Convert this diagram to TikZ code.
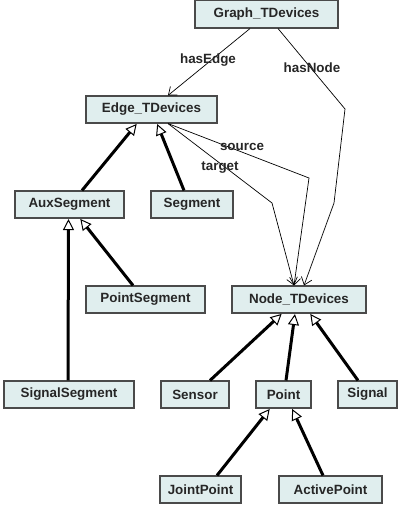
\documentclass[tikz,border=0pt]{standalone}
\usepackage{fontspec}
\setmainfont{Liberation Sans}
\usetikzlibrary{arrows.meta}
\definecolor{boxfill}{HTML}{E0EEEE}
\definecolor{boxdraw}{HTML}{4A4A4A}
\definecolor{txt}{HTML}{262626}
\begin{document}
\begin{tikzpicture}[x=1pt,y=-1pt,
  cls/.style={draw=boxdraw, fill=boxfill, line width=1.1pt, rectangle, inner sep=0pt,
    minimum height=27pt, text=txt, font=\fontsize{13.4}{16}\selectfont\bfseries},
  lbl/.style={text=txt, font=\fontsize{13.4}{16}\selectfont\bfseries, inner sep=0pt},
  assoc/.style={line width=0.7pt, -{Straight Barb[length=7pt,width=11pt,line width=0.7pt]}},
  inherit/.style={line width=3pt, -{Triangle[open,length=11pt,width=11pt,line width=1pt]}, shorten >=0.5pt}
]
\useasboundingbox (0,0) rectangle (398,505);
\node[cls, minimum width=143pt, minimum height=28pt] (graph) at (266.5,14) {Graph\_TDevices};
\node[cls, minimum width=131pt] (edge) at (151.5,109.5) {Edge\_TDevices};
\node[cls, minimum width=109pt] (aux) at (69.5,204.5) {AuxSegment};
\node[cls, minimum width=82pt] (seg) at (192,204.5) {Segment};
\node[cls, minimum width=119pt] (pseg) at (145.5,299.5) {PointSegment};
\node[cls, minimum width=134pt] (nodet) at (299,299.5) {Node\_TDevices};
\node[cls, minimum width=130pt] (sseg) at (69,394.5) {SignalSegment};
\node[cls, minimum width=68pt] (sensor) at (195,394.5) {Sensor};
\node[cls, minimum width=55pt] (point) at (283.5,394.5) {Point};
\node[cls, minimum width=59pt] (signal) at (367.5,394.5) {Signal};
\node[cls, minimum width=81pt] (joint) at (200.5,489.5) {JointPoint};
\node[cls, minimum width=103pt] (active) at (330.5,489.5) {ActivePoint};

% associations
\draw[assoc] ([xshift=-16.5pt]graph.south) -- ([xshift=16.5pt]edge.north);
\draw[assoc] ([xshift=11.5pt]graph.south) -- (345,109) -- (334,203) -- ([xshift=5pt]nodet.north);
\draw[assoc] ([xshift=16.5pt]edge.south) -- (309,178) -- ([xshift=-5pt]nodet.north);
\draw[assoc] ([xshift=16.5pt]edge.south) -- (272,203) -- ([xshift=-5pt]nodet.north);
\node[lbl] (lhasedge) at (208,60) {hasEdge};
\node[lbl] (lhasnode) at (312,68) {hasNode};
\node[lbl] (lsource) at (242,147) {source};
\node[lbl] (ltarget) at (220,168) {target};

% inheritance
\draw[inherit] ([xshift=12.5pt]aux.north) -- ([xshift=-14.5pt]edge.south);
\draw[inherit] ([xshift=-8pt]seg.north) -- ([xshift=5.5pt]edge.south);
\draw[inherit] ([xshift=-12.5pt]pseg.north) -- ([xshift=10.5pt]aux.south);
\draw[inherit] ([xshift=-1pt]sseg.north) -- ([xshift=-1pt]aux.south);
\draw[inherit] ([xshift=15pt]sensor.north) -- ([xshift=-17pt]nodet.south);
\draw[inherit] ([xshift=2.5pt]point.north) -- ([xshift=-4pt]nodet.south);
\draw[inherit] ([xshift=-9.5pt]signal.north) -- ([xshift=11pt]nodet.south);
\draw[inherit] ([xshift=16.5pt]joint.north) -- ([xshift=-13.5pt]point.south);
\draw[inherit] ([xshift=-7.5pt]active.north) -- ([xshift=8.5pt]point.south);
\end{tikzpicture}
\end{document}
